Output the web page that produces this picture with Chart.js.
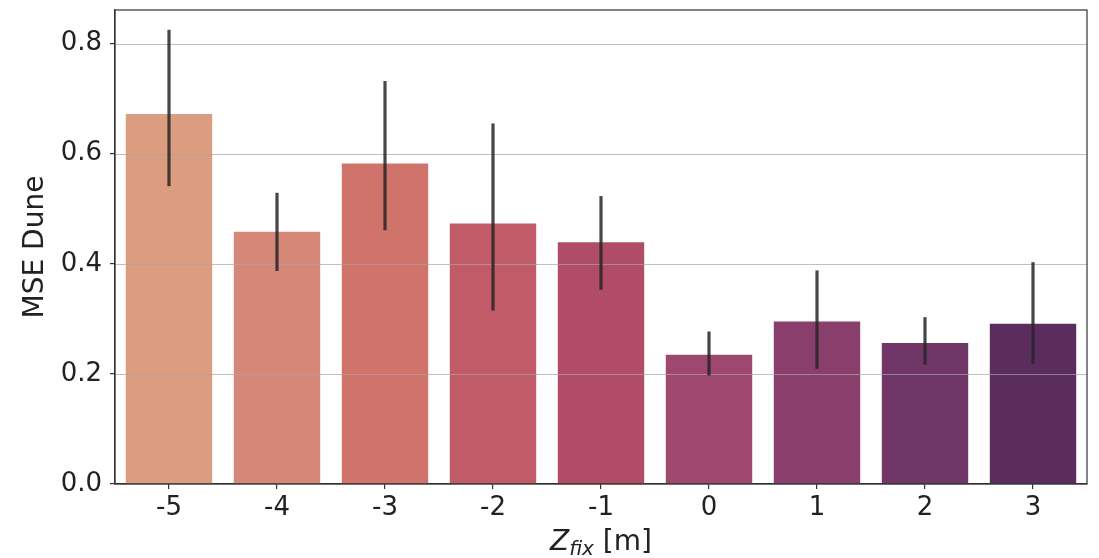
<!DOCTYPE html>
<html>
<head>
<meta charset="utf-8">
<script src="https://cdn.jsdelivr.net/npm/chart.js@4/dist/chart.umd.min.js"></script>
<style>
  html, body { margin: 0; padding: 0; background: #fff; }
  #wrap { width: 1099px; height: 558px; }
</style>
</head>
<body>
<div id="wrap"><canvas id="c" width="1099" height="558"></canvas></div>
<script>
// Fixed dune elevation Z_fix [m] and the resulting mean squared error
const categories = ['-5', '-4', '-3', '-2', '-1', '0', '1', '2', '3'];
const mseDune = [0.672, 0.458, 0.582, 0.473, 0.439, 0.235, 0.295, 0.256, 0.291];
// confidence interval bounds for each bar
const ciLow  = [0.541, 0.387, 0.461, 0.315, 0.353, 0.197, 0.209, 0.217, 0.218];
const ciHigh = [0.825, 0.529, 0.732, 0.655, 0.523, 0.277, 0.388, 0.303, 0.403];
const yTicks = [0.0, 0.2, 0.4, 0.6, 0.8];
const barColors = ['#dc9c80', '#d58878', '#d0736b', '#c25b68', '#b04c66',
                   '#9e4870', '#8a3e6c', '#6f3667', '#5b2d5e'];

const FONT = "'DejaVu Sans', 'Liberation Sans', sans-serif";
const TEXT = '#222222';
const FRAME = '#333333';

// grid drawn above the bars, then error bars, frame and the x-axis title
const overlay = {
  id: 'overlay',
  afterDatasetsDraw(chart) {
    const ctx = chart.ctx;
    const area = chart.chartArea;
    const y = chart.scales.y;
    const x = chart.scales.x;
    ctx.save();

    ctx.strokeStyle = 'rgba(165,165,165,0.7)';
    ctx.lineWidth = 1.2;
    yTicks.forEach(v => {
      if (v === 0) return;
      const py = Math.round(y.getPixelForValue(v)) + 0.5;
      ctx.beginPath();
      ctx.moveTo(area.left, py);
      ctx.lineTo(area.right, py);
      ctx.stroke();
    });

    ctx.strokeStyle = 'rgba(38,38,38,0.85)';
    ctx.lineWidth = 3.2;
    ctx.lineCap = 'butt';
    categories.forEach((c, i) => {
      const px = x.getPixelForValue(i);
      ctx.beginPath();
      ctx.moveTo(px, y.getPixelForValue(ciLow[i]));
      ctx.lineTo(px, y.getPixelForValue(ciHigh[i]));
      ctx.stroke();
    });

    ctx.strokeStyle = FRAME;
    ctx.lineWidth = 1.2;
    ctx.strokeRect(area.left, area.top, area.right - area.left, area.bottom - area.top);

    // x-axis title: Z with italic subscript "fix", then unit
    const cx = (area.left + area.right) / 2;
    const base = 550;
    ctx.fillStyle = TEXT;
    ctx.textBaseline = 'alphabetic';
    ctx.textAlign = 'left';
    const fMain = 'italic 28px ' + FONT;
    const fSub = 'italic 20px ' + FONT;
    const fUnit = '28px ' + FONT;
    ctx.font = fMain; const wZ = ctx.measureText('Z').width;
    ctx.font = fSub; const wSub = ctx.measureText('fix').width;
    ctx.font = fUnit; const wUnit = ctx.measureText(' [m]').width;
    let sx = cx - (wZ + wSub + wUnit) / 2;
    ctx.font = fMain; ctx.fillText('Z', sx, base); sx += wZ;
    ctx.font = fSub; ctx.fillText('fix', sx, base + 5); sx += wSub;
    ctx.font = fUnit; ctx.fillText(' [m]', sx, base);

    ctx.restore();
  }
};

new Chart(document.getElementById('c'), {
  type: 'bar',
  data: {
    labels: categories,
    datasets: [{
      data: mseDune,
      backgroundColor: barColors,
      borderWidth: 0,
      barPercentage: 0.8,
      categoryPercentage: 1.0
    }]
  },
  options: {
    responsive: false,
    animation: false,
    layout: { padding: { top: 10, right: 12, left: 0, bottom: 0 } },
    plugins: { legend: { display: false }, tooltip: { enabled: false } },
    scales: {
      x: {
        offset: true,
        grid: { offset: false, drawOnChartArea: false, tickColor: FRAME, tickLength: 5, lineWidth: 1.2 },
        border: { display: true, color: FRAME, width: 1.2 },
        ticks: { color: TEXT, font: { family: FONT, size: 26 }, padding: 4, maxRotation: 0 },
        afterFit(s) { s.height = 74; s.paddingLeft = 0; s.paddingRight = 0; }
      },
      y: {
        min: 0,
        max: 0.861,
        afterBuildTicks(s) { s.ticks = yTicks.map(v => ({ value: v })); },
        grid: { drawOnChartArea: false, tickColor: FRAME, tickLength: 5, lineWidth: 1.2 },
        border: { display: true, color: FRAME, width: 1.2 },
        ticks: {
          color: TEXT,
          font: { family: FONT, size: 26 },
          padding: 8,
          callback: v => Number(v).toFixed(1)
        },
        title: {
          display: true,
          text: 'MSE Dune',
          color: TEXT,
          font: { family: FONT, size: 28 },
          padding: { top: 19, bottom: 0 }
        },
        afterFit(s) { s.width = 115; s.paddingTop = 0; s.paddingBottom = 0; }
      }
    }
  },
  plugins: [overlay]
});
</script>
</body>
</html>
